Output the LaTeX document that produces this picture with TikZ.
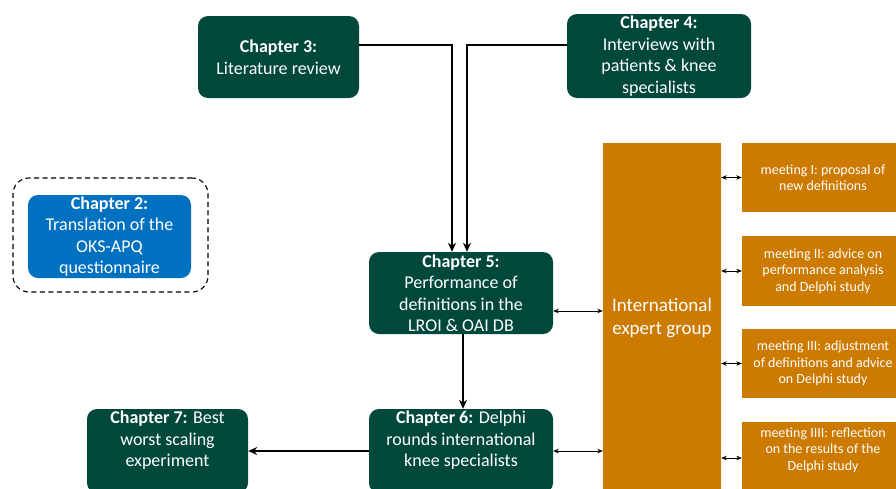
\documentclass[tikz,border=0pt]{standalone}
\usepackage{fontspec}
\setmainfont{Carlito}
\usetikzlibrary{arrows.meta}
\definecolor{dgreen}{HTML}{00473C}
\definecolor{cblue}{HTML}{0070C0}
\definecolor{corange}{HTML}{CC7A00}
\tikzset{
  chap/.style={fill=dgreen, text=white, rounded corners=10pt, align=center, inner sep=0pt,
    font=\fontsize{18}{21.5}\selectfont},
  chapblue/.style={chap, fill=cblue},
  meet/.style={fill=corange, text=white, align=center, inner sep=0pt,
    font=\fontsize{14}{16.5}\selectfont},
  expertbox/.style={fill=corange, text=white, align=center, inner sep=0pt,
    font=\fontsize{19}{23}\selectfont},
  mainarrow/.style={line width=2.2pt, -{Stealth[length=9pt,width=8pt]}},
  dblarrow/.style={line width=0.7pt, {Stealth[length=5.5pt,width=4.5pt]}-{Stealth[length=5.5pt,width=4.5pt]}},
  dashbox/.style={draw, dashed, line width=1.1pt, rounded corners=16pt, dash pattern=on 5pt off 3.5pt}
}
\begin{document}
\begin{tikzpicture}[x=1pt,y=-1pt]
\useasboundingbox (0,0) rectangle (896,488);
% chapter nodes
\node[chap, minimum width=161pt, minimum height=82pt] (ch3) at (278.5,57) {\textbf{Chapter 3:}\\Literature review};
\node[chap, minimum width=184pt, minimum height=84pt] (ch4) at (659,56) {\textbf{Chapter 4:}\\Interviews with\\patients \& knee\\specialists};
\node[dashbox, minimum width=195pt, minimum height=114pt] (ch2frame) at (110.5,235) {};
\node[chapblue, minimum width=163pt, minimum height=83pt] (ch2) at (109.5,236.5) {\textbf{Chapter 2:}\\Translation of the\\OKS-APQ\\questionnaire};
\node[chap, minimum width=184pt, minimum height=82pt] (ch5) at (461,293) {\textbf{Chapter 5:}\\Performance of\\definitions in the\\LROI \& OAI DB};
\node[chap, minimum width=184pt, minimum height=84pt] (ch6) at (461,451) {\textbf{Chapter 6:} Delphi\\rounds international\\knee specialists\\[3pt]};
\node[chap, minimum width=161pt, minimum height=84pt] (ch7) at (167.5,451) {\textbf{Chapter 7:} Best\\worst scaling\\experiment\\[3pt]};
% expert group
\node[expertbox, minimum width=118pt, minimum height=351pt] (expert) at (662,318.5) {International\\expert group};
\node[meet, minimum width=162pt, minimum height=69pt] (m1) at (823,177.5) {meeting I: proposal of\\new definitions};
\node[meet, minimum width=162pt, minimum height=70pt] (m2) at (823,271) {meeting II: advice on\\performance analysis\\and Delphi study};
\node[meet, minimum width=162pt, minimum height=69pt] (m3) at (823,363.5) {meeting III: adjustment\\of definitions and advice\\on Delphi study};
\node[meet, minimum width=162pt, minimum height=72pt] (m4) at (823,458) {meeting IIII: reflection\\on the results of the\\Delphi study\\[2pt]};
% main arrows
\draw[mainarrow] ([yshift=12pt]ch3.east) -| ([xshift=-9pt]ch5.north);
\draw[mainarrow] ([yshift=11pt]ch4.west) -| ([xshift=6pt]ch5.north);
\draw[mainarrow] ([xshift=2pt]ch5.south) -- ([xshift=2pt]ch6.north);
\draw[mainarrow] (ch6.west) -- (ch7.east);
% double arrows
\draw[dblarrow] ([yshift=-18pt]ch5.east) -- ([yshift=-18pt]ch5.east -| expert.west);
\draw[dblarrow] (ch6.east) -- (ch6.east -| expert.west);
\draw[dblarrow] (m1.west) -- (m1.west -| expert.east);
\draw[dblarrow] (m2.west) -- (m2.west -| expert.east);
\draw[dblarrow] (m3.west) -- (m3.west -| expert.east);
\draw[dblarrow] (m4.west) -- (m4.west -| expert.east);
\end{tikzpicture}
\end{document}
